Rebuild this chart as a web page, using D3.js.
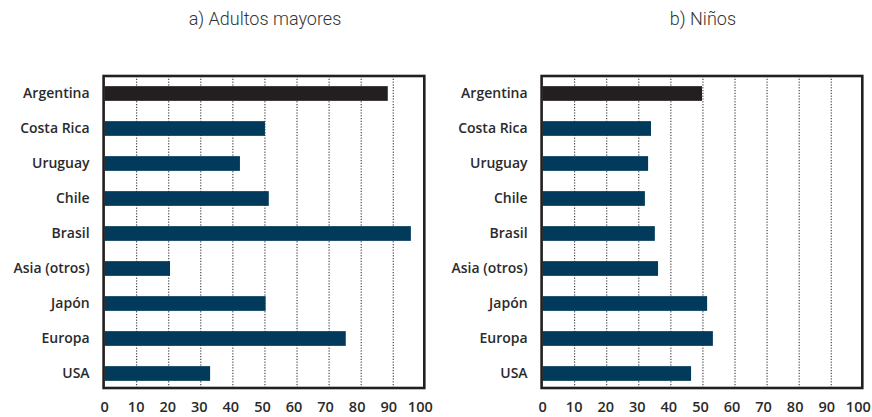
<!DOCTYPE html>
<html><head><meta charset="utf-8">
<script src="https://cdn.jsdelivr.net/npm/d3@7"></script>
<style>body{margin:0;background:#fff}svg{display:block}</style>
</head><body>
<svg id="c" width="872" height="417"></svg>
<script>
const categories = ["Argentina","Costa Rica","Uruguay","Chile","Brasil","Asia (otros)","Japón","Europa","USA"];
const adultosValues = [88.3, 50.0, 42.2, 51.2, 95.5, 20.4, 50.2, 75.2, 32.9];
const ninosValues = [49.7, 33.8, 32.9, 31.9, 35.0, 36.0, 51.3, 53.1, 46.3];
const tickValues = [0,10,20,30,40,50,60,70,80,90,100];
const panelTitles = ["a) Adultos mayores", "b) Niños"];
const highlight = "Argentina";

(function(){
const svg = d3.select("#c");
const font = "'Open Sans', sans-serif";
const panels = [
  {title: panelTitles[0], values: adultosValues, x0: 104.6, x1: 425.3},
  {title: panelTitles[1], values: ninosValues, x0: 542.6, x1: 863.3}
];
const plotTop = 76, plotBottom = 388;

panels.forEach(p => {
  const x = d3.scaleLinear().domain([0,100]).range([p.x0, p.x1]);
  const y = d3.scaleBand().domain(categories).range([plotTop, plotTop + 35*9]).paddingInner(0.58).paddingOuter(0.29);
  const g = svg.append("g");

  g.selectAll("line.grid").data(tickValues.slice(1, -1)).join("line")
    .attr("x1", d => x(d)).attr("x2", d => x(d))
    .attr("y1", plotTop).attr("y2", plotBottom)
    .attr("stroke", "#231f20").attr("stroke-width", 1).attr("stroke-dasharray", "1.2,1.6");

  const data = categories.map((c,i) => ({c, v: p.values[i]}));
  g.selectAll("rect.bar").data(data).join("rect")
    .attr("x", x(0)).attr("y", d => y(d.c))
    .attr("width", d => x(d.v) - x(0)).attr("height", y.bandwidth())
    .attr("fill", d => d.c === highlight ? "#231f20" : "#013a5a");

  g.append("rect").attr("x", x(0) - 1).attr("y", plotTop)
    .attr("width", x(100) - x(0)).attr("height", plotBottom - plotTop)
    .attr("fill", "none").attr("stroke", "#231f20").attr("stroke-width", 2.6);

  g.selectAll("text.cat").data(categories).join("text")
    .attr("x", x(0) - 15).attr("y", d => y(d) + y.bandwidth()/2)
    .attr("dy", "0.35em").attr("text-anchor", "end")
    .attr("font-family", font).attr("font-size", 14).attr("font-weight", 600)
    .attr("fill", "#2b2b2b").text(d => d);

  g.selectAll("text.tick").data(tickValues).join("text")
    .attr("x", d => x(d) - d*0.05).attr("y", 412)
    .attr("text-anchor", "middle")
    .attr("font-family", font).attr("font-size", 14.5).attr("font-weight", 600)
    .attr("fill", "#2b2b2b").text(d => d);

  g.append("text").attr("x", (p.x0 + p.x1)/2).attr("y", 25)
    .attr("text-anchor", "middle")
    .attr("font-family", "Roboto, sans-serif").attr("font-size", 18).attr("font-weight", 300)
    .attr("fill", "#333").text(p.title);
});
})();
</script>
</body></html>
